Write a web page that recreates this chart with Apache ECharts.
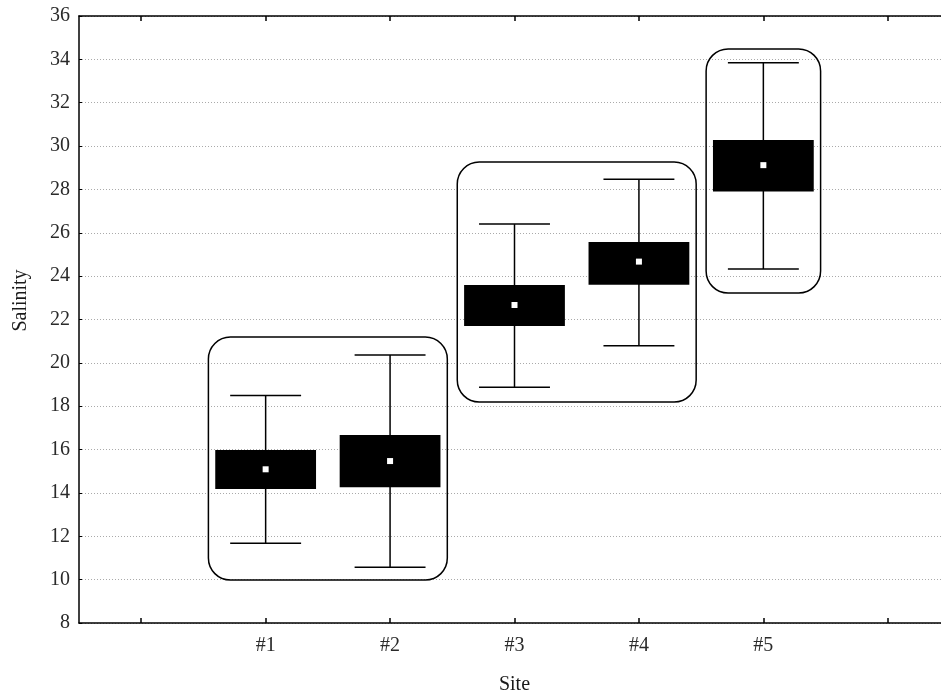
<!DOCTYPE html>
<html>
<head>
<meta charset="utf-8">
<script src="https://cdn.jsdelivr.net/npm/echarts@6/dist/echarts.min.js"></script>
<style>html,body{margin:0;padding:0;background:#fff;}#c{width:941px;height:700px;}</style>
</head>
<body>
<div id="c"></div>
<script>
// Categories (blank slots at both ends as in the original axis)
var categories = ['', '#1', '#2', '#3', '#4', '#5', ''];
var sites = ['#1', '#2', '#3', '#4', '#5'];
// Whisker ends, box ends and mean values (Salinity)
var whiskerLow  = [11.68, 10.57, 18.87, 20.79, 24.33];
var boxLow      = [14.18, 14.26, 21.70, 23.60, 27.91];
var means       = [15.09, 15.47, 22.67, 24.67, 29.12];
var boxHigh     = [15.98, 16.67, 23.59, 25.57, 30.28];
var whiskerHigh = [18.50, 20.36, 26.40, 28.47, 33.84];
// Grouping outlines (rounded rectangles)
var groupFrom = ['#1', '#3', '#5'];
var groupTo   = ['#2', '#4', '#5'];
var groupLow  = [9.98, 18.19, 23.22];
var groupHigh = [21.19, 29.26, 34.48];
var yTicks = [8, 36, 2];

var FONT = 'Liberation Serif';
var boxData = sites.map(function (s, i) {
  return [categories.indexOf(s), whiskerLow[i], boxLow[i], means[i], boxHigh[i], whiskerHigh[i]];
});
var groupData = groupFrom.map(function (f, i) {
  return [categories.indexOf(f), categories.indexOf(groupTo[i]), groupLow[i], groupHigh[i]];
});

var chart = echarts.init(document.getElementById('c'), null, {renderer: 'canvas'});
var axisLabelStyle = {fontFamily: FONT, fontSize: 20, color: '#2a2a2a'};
var tickStyle = {show: true, interval: 0, alignWithLabel: true, inside: true, length: 5, lineStyle: {color: '#000', width: 1.5}};
chart.setOption({
  animation: false,
  backgroundColor: '#fff',
  grid: {left: 79, top: 16, right: -9, bottom: 77, containLabel: false, outerBoundsMode: 'none'},
  xAxis: [{
    type: 'category', data: categories, position: 'bottom',
    boundaryGap: true,
    name: 'Site', nameLocation: 'middle', nameGap: 52,
    nameTextStyle: {fontFamily: FONT, fontSize: 20, color: '#1a1a1a'},
    axisLine: {lineStyle: {color: '#000', width: 1.5}},
    axisTick: tickStyle,
    axisLabel: Object.assign({margin: 13, interval: 0}, axisLabelStyle),
    splitLine: {show: false}
  }, {
    type: 'category', data: categories, position: 'top',
    boundaryGap: true,
    axisLine: {lineStyle: {color: '#000', width: 1.5}},
    axisTick: tickStyle,
    axisLabel: {show: false},
    splitLine: {show: false}
  }],
  yAxis: [{
    type: 'value', min: yTicks[0], max: yTicks[1], interval: yTicks[2],
    name: 'Salinity', nameLocation: 'middle', nameGap: 48, nameRotate: 90,
    nameTextStyle: {fontFamily: FONT, fontSize: 20, color: '#1a1a1a', padding: [0, 0, 0, 38]},
    axisLine: {show: true, lineStyle: {color: '#000', width: 1.5}},
    axisTick: {show: true, inside: true, length: 3, lineStyle: {color: '#000'}},
    axisLabel: Object.assign({margin: 9}, axisLabelStyle),
    splitLine: {show: true, lineStyle: {color: '#aaa', type: [1, 2], width: 1}}
  }],
  series: [{
    type: 'custom',
    name: 'groups',
    data: groupData,
    encode: {x: [0, 1], y: [2, 3]},
    z: 3,
    renderItem: function (params, api) {
      var cw = api.size([1, 0])[0];
      var pad = cw * 0.46;
      var p1 = api.coord([api.value(0), api.value(3)]);
      var p2 = api.coord([api.value(1), api.value(2)]);
      return {
        type: 'rect',
        shape: {x: p1[0] - pad, y: p1[1], width: p2[0] - p1[0] + 2 * pad, height: p2[1] - p1[1], r: 22},
        style: {fill: 'none', stroke: '#000', lineWidth: 1.5}
      };
    }
  }, {
    type: 'custom',
    name: 'Salinity',
    data: boxData,
    encode: {x: 0, y: [1, 2, 3, 4, 5]},
    z: 4,
    renderItem: function (params, api) {
      var x = api.value(0);
      var cw = api.size([1, 0])[0];
      var bw = cw * 0.81, capw = cw * 0.57;
      var lo = api.coord([x, api.value(1)]);
      var q1 = api.coord([x, api.value(2)]);
      var m = api.coord([x, api.value(3)]);
      var q3 = api.coord([x, api.value(4)]);
      var hi = api.coord([x, api.value(5)]);
      var cx = lo[0];
      var ls = {stroke: '#000', lineWidth: 1.5};
      return {
        type: 'group',
        children: [
          {type: 'line', shape: {x1: cx, y1: hi[1], x2: cx, y2: lo[1]}, style: ls},
          {type: 'line', shape: {x1: cx - capw / 2, y1: hi[1], x2: cx + capw / 2, y2: hi[1]}, style: ls},
          {type: 'line', shape: {x1: cx - capw / 2, y1: lo[1], x2: cx + capw / 2, y2: lo[1]}, style: ls},
          {type: 'rect', shape: {x: cx - bw / 2, y: q3[1], width: bw, height: q1[1] - q3[1]}, style: {fill: '#000'}},
          {type: 'rect', shape: {x: cx - 3, y: m[1] - 3, width: 6, height: 6}, style: {fill: '#fff'}}
        ]
      };
    }
  }]
});
</script>
</body>
</html>
